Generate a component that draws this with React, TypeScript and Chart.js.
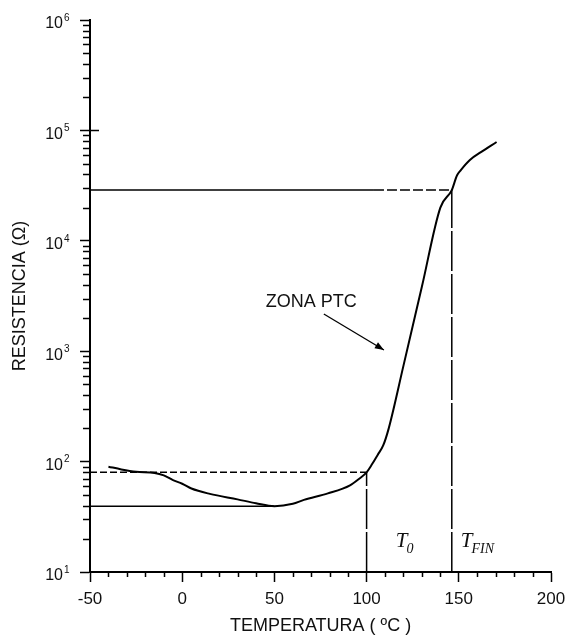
import React, { useEffect, useRef } from 'react';
import { Chart, registerables } from 'chart.js';

Chart.register(...registerables);

// ---- data ----
const tempC = [-40, -33, -25, -15, -10, -5, 0, 5, 15, 30, 40, 50, 60, 66, 79, 91, 96, 100, 103, 106, 109, 112, 120, 130, 140, 146.2, 149, 151, 156, 162, 170.5];
const resistance = [90, 85, 81, 79, 75, 68, 63, 57, 51, 45.5, 42, 39.5, 41.5, 45, 51.5, 61, 70, 80, 95, 115, 140, 200, 740, 3850, 20000, 28800, 39000, 43500, 54000, 63500, 78500];

const xTickValues = [-50, 0, 50, 100, 150, 200];
const decadeExponents = [1, 2, 3, 4, 5, 6];
const minorMultipliers = [2, 3, 4, 5, 6, 7, 8, 9];

const X_MIN = -50;
const X_MAX = 200;
const Y_MIN = 10;
const Y_MAX = 1e6;

const T0 = 100;
const TFIN = 146.2;
const T_MIN = 50;
const T_SPLIT = 104;
const R_T0 = 80;
const R_MIN = 39.5;
const R_FIN = 28800;

// annotation anchors (data coordinates)
const zonaLabel = { x: 70, y: 2800, text: 'ZONA PTC' };
const zonaArrowFrom = { x: 76.8, y: 2170 };
const zonaArrowTo = { x: 109.4, y: 1026 };
const t0Label = { x: 115.8, y: 16.8, main: 'T', sub: '0' };
const tfinLabel = { x: 151.1, y: 16.8, main: 'T', sub: 'FIN' };

const SANS = '"Liberation Sans", Arial, sans-serif';
const SERIF = '"Liberation Serif", "Times New Roman", serif';
const INK = '#111';

const decorPlugin = {
  id: 'decor',
  afterDraw(chart: any) {
    const { ctx, chartArea } = chart;
    const x = chart.scales.x;
    const y = chart.scales.y;
    ctx.save();
    ctx.strokeStyle = '#000';
    ctx.lineWidth = 1.5;
    ctx.beginPath();
    // minor x ticks
    for (let v = X_MIN; v <= X_MAX; v += 10) {
      if (v % 50 === 0) continue;
      const px = Math.round(x.getPixelForValue(v)) + 0.5;
      ctx.moveTo(px, chartArea.bottom);
      ctx.lineTo(px, chartArea.bottom + 5);
    }
    // minor y ticks
    for (let k = 1; k < 6; k++) {
      for (const m of minorMultipliers) {
        const py = Math.round(y.getPixelForValue(m * Math.pow(10, k))) + 0.5;
        ctx.moveTo(chartArea.left - 7, py);
        ctx.lineTo(chartArea.left, py);
      }
    }
    // small inner tick at 10^5
    const p5 = Math.round(y.getPixelForValue(1e5)) + 0.5;
    ctx.moveTo(chartArea.left, p5);
    ctx.lineTo(chartArea.left + 9, p5);
    ctx.stroke();

    // y tick labels 10^k
    ctx.fillStyle = INK;
    for (const k of decadeExponents) {
      const py = y.getPixelForValue(Math.pow(10, k));
      ctx.font = `16px ${SANS}`;
      ctx.textAlign = 'right';
      ctx.textBaseline = 'middle';
      ctx.fillText('10', chartArea.left - 27, py + 4);
      ctx.font = `10px ${SANS}`;
      ctx.textAlign = 'left';
      ctx.fillText(String(k), chartArea.left - 26, py - 2);
    }

    // ZONA PTC label
    ctx.font = `18px ${SANS}`;
    ctx.textAlign = 'center';
    ctx.textBaseline = 'middle';
    ctx.fillText(zonaLabel.text, x.getPixelForValue(zonaLabel.x), y.getPixelForValue(zonaLabel.y));

    // arrow
    const ax0 = x.getPixelForValue(zonaArrowFrom.x);
    const ay0 = y.getPixelForValue(zonaArrowFrom.y);
    const ax1 = x.getPixelForValue(zonaArrowTo.x);
    const ay1 = y.getPixelForValue(zonaArrowTo.y);
    ctx.lineWidth = 1.3;
    ctx.beginPath();
    ctx.moveTo(ax0, ay0);
    ctx.lineTo(ax1, ay1);
    ctx.stroke();
    const ang = Math.atan2(ay1 - ay0, ax1 - ax0);
    const hl = 9;
    const hw = 3.5;
    ctx.beginPath();
    ctx.moveTo(ax1, ay1);
    ctx.lineTo(ax1 - hl * Math.cos(ang) + hw * Math.sin(ang), ay1 - hl * Math.sin(ang) - hw * Math.cos(ang));
    ctx.lineTo(ax1 - hl * Math.cos(ang) - hw * Math.sin(ang), ay1 - hl * Math.sin(ang) + hw * Math.cos(ang));
    ctx.closePath();
    ctx.fillStyle = '#000';
    ctx.fill();

    // T0 / TFIN labels
    ctx.fillStyle = INK;
    ctx.textAlign = 'left';
    ctx.textBaseline = 'alphabetic';
    for (const lab of [t0Label, tfinLabel]) {
      const lx = x.getPixelForValue(lab.x);
      const ly = y.getPixelForValue(lab.y);
      ctx.font = `italic 21px ${SERIF}`;
      ctx.fillText(lab.main, lx, ly);
      const w = ctx.measureText(lab.main).width;
      ctx.font = `italic 14px ${SERIF}`;
      ctx.fillText(lab.sub, lx + w - 1, ly + 6);
    }
    ctx.restore();
  },
};

function pts(xs: number[], ys: number[]) {
  return xs.map((v, i) => ({ x: v, y: ys[i] }));
}

export default function App() {
  const canvasRef = useRef<HTMLCanvasElement | null>(null);

  useEffect(() => {
    const canvas = canvasRef.current;
    if (!canvas) return;
    const refLine = (data: any[], dash: number[]) => ({
      data,
      borderColor: '#000',
      borderWidth: 1.5,
      borderDash: dash,
      pointRadius: 0,
      tension: 0,
      fill: false,
    });
    const chart = new Chart(canvas, {
      type: 'line',
      data: {
        datasets: [
          {
            data: pts(tempC, resistance),
            borderColor: '#000',
            borderWidth: 2,
            pointRadius: 0,
            cubicInterpolationMode: 'monotone',
            fill: false,
          } as any,
          refLine([{ x: X_MIN, y: R_T0 }, { x: T0, y: R_T0 }], [7, 3]),
          refLine([{ x: T0, y: Y_MIN }, { x: T0, y: R_T0 }], [40, 3]),
          refLine([{ x: X_MIN, y: R_MIN }, { x: T_MIN, y: R_MIN }], []),
          refLine([{ x: X_MIN, y: R_FIN }, { x: T_SPLIT, y: R_FIN }], []),
          refLine([{ x: T_SPLIT, y: R_FIN }, { x: TFIN, y: R_FIN }], [10, 3]),
          refLine([{ x: TFIN, y: Y_MIN }, { x: TFIN, y: R_FIN }], [40, 3]),
        ],
      },
      options: {
        animation: false,
        responsive: true,
        maintainAspectRatio: false,
        layout: { padding: { top: 20, right: 16, bottom: 0, left: 0 } },
        plugins: {
          legend: { display: false },
          tooltip: { enabled: false },
        },
        scales: {
          x: {
            type: 'linear',
            position: 'bottom',
            min: X_MIN,
            max: X_MAX,
            afterBuildTicks: (scale: any) => {
              scale.ticks = xTickValues.map((v) => ({ value: v }));
            },
            afterFit: (scale: any) => {
              scale.height = 65;
              scale.paddingLeft = 0;
              scale.paddingRight = 0;
            },
            ticks: {
              color: INK,
              font: { family: SANS, size: 17 },
              padding: 7,
              maxRotation: 0,
              autoSkip: false,
            },
            grid: {
              drawOnChartArea: false,
              drawTicks: true,
              tickLength: 10,
              tickWidth: 1.5,
              tickColor: '#000',
            },
            border: { display: true, color: '#000', width: 2 },
            title: {
              display: true,
              text: 'TEMPERATURA ( ºC )',
              color: INK,
              font: { family: SANS, size: 18 },
              padding: { top: 0, bottom: 0 },
            },
          },
          y: {
            type: 'logarithmic',
            position: 'left',
            min: Y_MIN,
            max: Y_MAX,
            afterBuildTicks: (scale: any) => {
              scale.ticks = decadeExponents.map((k) => ({ value: Math.pow(10, k), major: true }));
            },
            afterFit: (scale: any) => {
              scale.width = 90;
              scale.paddingTop = 0;
              scale.paddingBottom = 0;
            },
            ticks: { display: false },
            grid: {
              drawOnChartArea: false,
              drawTicks: true,
              tickLength: 10,
              tickWidth: 1.5,
              tickColor: '#000',
            },
            border: { display: true, color: '#000', width: 2 },
            title: {
              display: true,
              text: 'RESISTENCIA (Ω)',
              color: INK,
              font: { family: SANS, size: 18 },
              padding: { top: 9, bottom: 0 },
            },
          },
        },
      },
      plugins: [decorPlugin],
    } as any);
    return () => chart.destroy();
  }, []);

  return (
    <div style={{ position: 'fixed', left: 0, top: 0, width: 567, height: 637, background: '#fff' }}>
      <canvas ref={canvasRef} />
    </div>
  );
}
